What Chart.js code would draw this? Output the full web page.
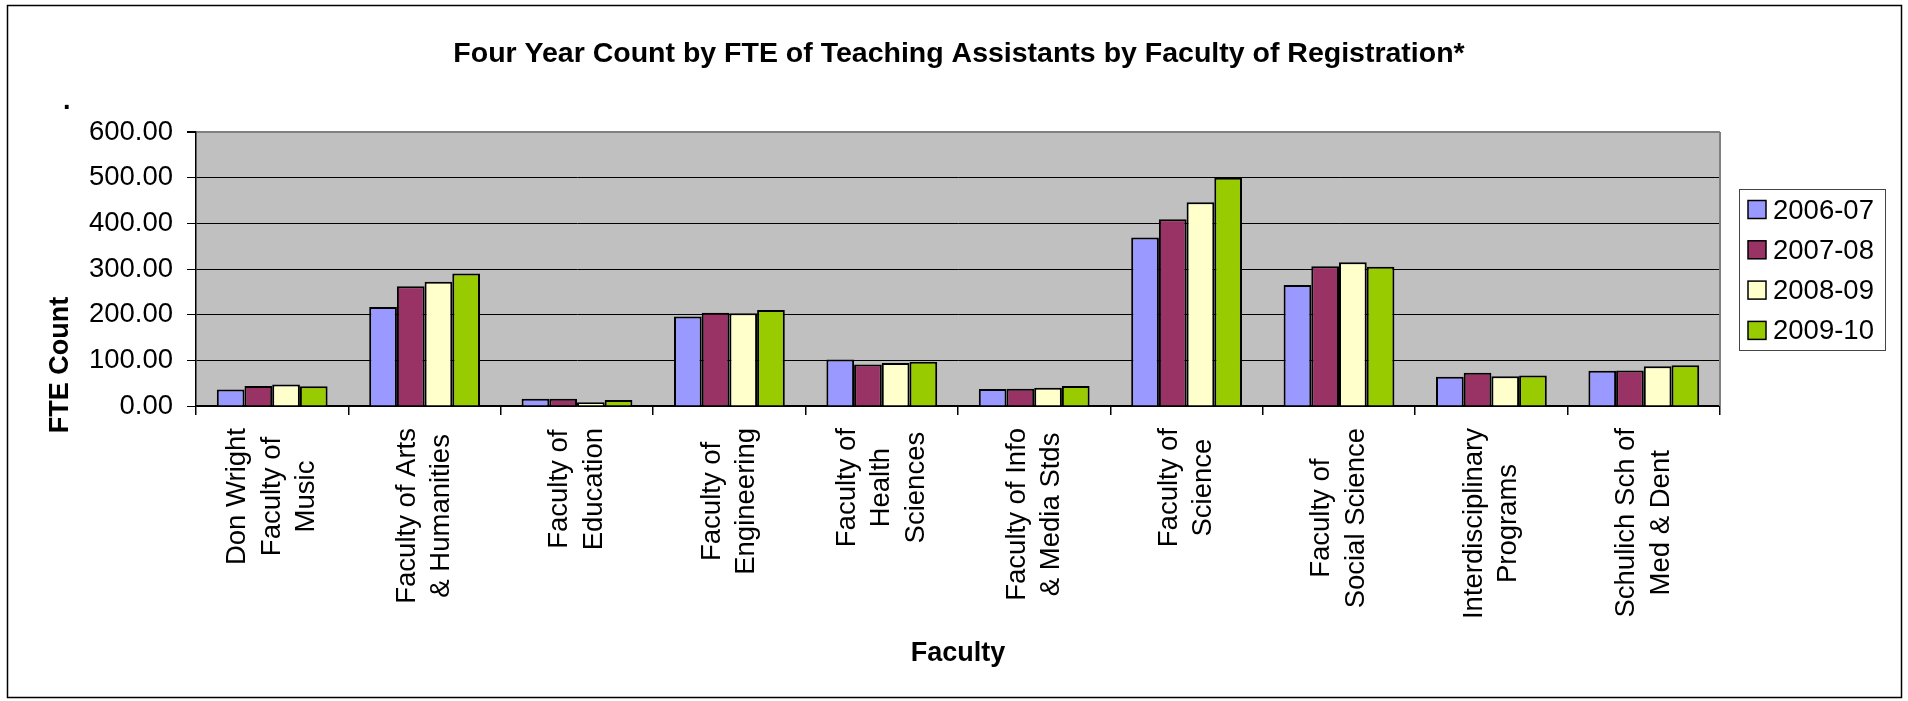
<!DOCTYPE html>
<html>
<head>
<meta charset="utf-8">
<style>
  html, body { margin: 0; padding: 0; background: #fff; }
  #wrap { width: 1908px; height: 701px; }
</style>
<script src="https://cdn.jsdelivr.net/npm/chart.js@4/dist/chart.umd.min.js"></script>
</head>
<body>
<div id="wrap"><canvas id="taChart" width="1908" height="701"></canvas></div>
<script>
// TA FTE counts by faculty, four academic years

const chartTitle = "Four Year Count by FTE of Teaching Assistants by Faculty of Registration*";
const faculties = [
  ["Don Wright", "Faculty of", "Music"],
  ["Faculty of Arts", "& Humanities"],
  ["Faculty of", "Education"],
  ["Faculty of", "Engineering"],
  ["Faculty of", "Health", "Sciences"],
  ["Faculty of Info", "& Media Stds"],
  ["Faculty of", "Science"],
  ["Faculty of", "Social Science"],
  ["Interdisciplinary", "Programs"],
  ["Schulich Sch of", "Med & Dent"]
];
const years = ["2006-07", "2007-08", "2008-09", "2009-10"];
const fte0607 = [36, 217, 16, 196, 102, 37, 369, 265, 64, 77];
const fte0708 = [44, 262, 16, 204, 91, 38, 409, 306, 73, 78];
const fte0809 = [47, 272, 8, 203, 94, 40, 446, 315, 65, 87];
const fte0910 = [43, 290, 13, 210, 97, 44, 500, 305, 67, 89];
const yearColors = ["#9999FF", "#993366", "#FFFFCC", "#99CC00"];

const FONT = '"Liberation Sans", Arial, sans-serif';

const decor = {
  id: "decor",
  beforeDraw(chart) {
    const { ctx, chartArea: a } = chart;
    ctx.save();
    ctx.fillStyle = "#fff";
    ctx.fillRect(0, 0, chart.width, chart.height);
    ctx.fillStyle = "#C0C0C0";
    ctx.fillRect(a.left, a.top, a.right - a.left, a.bottom - a.top);
    ctx.restore();
  },
  afterDraw(chart) {
    const { ctx, chartArea: a } = chart;
    const xs = chart.scales.x;
    ctx.save();

    // right edge of plot
    ctx.strokeStyle = "#808080";
    ctx.lineWidth = 2;
    ctx.beginPath();
    ctx.moveTo(a.right, a.top);
    ctx.lineTo(a.right, a.bottom);
    ctx.stroke();

    ctx.fillStyle = "#000";

    // title
    ctx.font = "bold 28.5px " + FONT;
    ctx.textAlign = "center";
    ctx.textBaseline = "alphabetic";
    ctx.fillText(chartTitle, 959, 62);

    // stray dot
    ctx.font = "bold 27px " + FONT;
    ctx.textAlign = "left";
    ctx.fillText(".", 63, 109);

    // axis titles
    ctx.textAlign = "center";
    ctx.fillText("Faculty", 958, 661);
    ctx.save();
    ctx.translate(68, 365);
    ctx.rotate(-Math.PI / 2);
    ctx.fillText("FTE Count", 0, 0);
    ctx.restore();

    // category labels, rotated, lines centred in block
    ctx.font = "27.5px " + FONT;
    ctx.textBaseline = "middle";
    const lineH = 34.5;
    chart.data.labels.forEach((lines, i) => {
      const px = xs.getPixelForValue(i);
      const maxW = Math.max(...lines.map(l => ctx.measureText(l).width));
      ctx.save();
      ctx.translate(px, a.bottom + 22);
      ctx.rotate(-Math.PI / 2);
      lines.forEach((l, k) => {
        ctx.fillText(l, -maxW / 2, (k - (lines.length - 1) / 2) * lineH);
      });
      ctx.restore();
    });

    // legend
    ctx.strokeStyle = "#444";
    ctx.lineWidth = 1;
    ctx.strokeRect(1739.5, 189.5, 146, 161);
    ctx.textAlign = "left";
    ctx.textBaseline = "alphabetic";
    chart.data.datasets.forEach((ds, k) => {
      const base = 218.5 + k * 40.3;
      ctx.fillStyle = ds.backgroundColor;
      ctx.fillRect(1748, base - 18, 18, 18);
      ctx.strokeStyle = "#000";
      ctx.lineWidth = 1.5;
      ctx.strokeRect(1748, base - 18, 18, 18);
      ctx.fillStyle = "#000";
      ctx.fillText(ds.label, 1773, base);
    });

    // outer frame
    ctx.strokeStyle = "#000";
    ctx.lineWidth = 1.5;
    ctx.strokeRect(7.5, 5.5, 1894, 692);
    ctx.restore();
  }
};

const seriesValues = [fte0607, fte0708, fte0809, fte0910];

new Chart(document.getElementById("taChart"), {
  type: "bar",
  data: {
    labels: faculties,
    datasets: years.map((y, k) => ({
      label: y,
      data: seriesValues[k],
      backgroundColor: yearColors[k],
      borderColor: "#000",
      borderWidth: 2,
      categoryPercentage: 0.727,
      barPercentage: 1.0
    }))
  },
  options: {
    responsive: false,
    animation: false,
    devicePixelRatio: 1,
    layout: { padding: { left: 0, top: 132, right: 188, bottom: 0 } },
    plugins: {
      legend: { display: false },
      title: { display: false },
      tooltip: { enabled: false }
    },
    scales: {
      x: {
        afterFit: s => { s.height = 295; },
        ticks: { display: false },
        grid: {
          display: true,
          offset: true,
          drawOnChartArea: false,
          drawTicks: true,
          tickLength: 9,
          color: "#000",
          lineWidth: 1.5
        },
        border: { display: true, color: "#000", width: 1.5 }
      },
      y: {
        min: 0,
        max: 600,
        afterFit: s => { s.width = 196; },
        ticks: {
          stepSize: 100,
          padding: 14,
          color: "#000",
          font: { family: FONT, size: 27.5 },
          callback: v => v.toFixed(2)
        },
        grid: {
          color: c => (c.tick && c.tick.value === 600 ? "#808080" : "#000"),
          lineWidth: c => (c.tick && c.tick.value === 600 ? 2 : 1),
          tickColor: "#000",
          tickLength: 9
        },
        border: { display: true, color: "#000", width: 1.5 }
      }
    }
  },
  plugins: [decor]
});
</script>
</body>
</html>
